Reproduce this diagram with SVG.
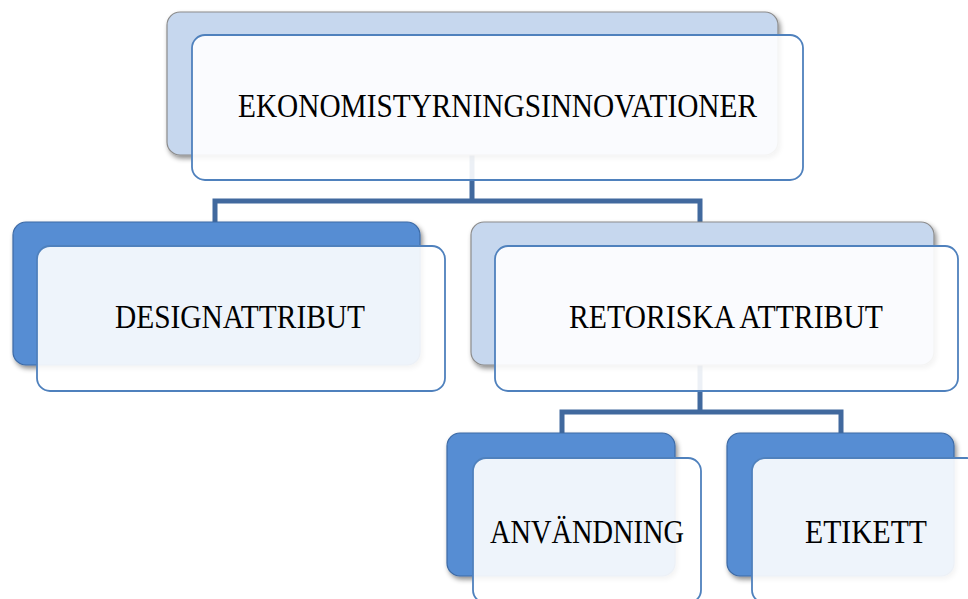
<svg xmlns="http://www.w3.org/2000/svg" width="968" height="599" viewBox="0 0 968 599">
<defs>
<filter id="sh" x="-10%" y="-10%" width="125%" height="130%">
<feDropShadow dx="2" dy="3" stdDeviation="2.5" flood-color="#000" flood-opacity="0.45"/>
</filter>
<style>
.bd{fill:#568dd3;stroke:#3d6aa5;stroke-width:1.2;filter:url(#sh)}
.bl{fill:#c6d7ee;stroke:#8c8c8c;stroke-width:1.2;filter:url(#sh)}
.fr{fill:#ffffff;fill-opacity:0.9;stroke:#4f81bd;stroke-width:1.8}
.t{font-family:"Liberation Serif","DejaVu Serif",serif;font-size:33px;fill:#000;text-anchor:middle}
.c{fill:none;stroke:#41699e;stroke-width:5;stroke-linejoin:miter}
</style>
</defs>
<rect width="968" height="599" fill="#ffffff"/>
<g id="connectors">
<path class="c" d="M472,155 V201 M215,222 V201 H700 V222"/>
<path class="c" d="M700,365 V412 M562,433 V412 H841 V433"/>
</g>
<g id="n-ekonomi">
<rect class="bl" x="167" y="12" width="611" height="143" rx="13"/>
<rect class="fr" x="192" y="35" width="611" height="145" rx="13"/>
<text class="t" x="497.5" y="117" textLength="519" lengthAdjust="spacingAndGlyphs">EKONOMISTYRNINGSINNOVATIONER</text>
</g>
<g id="n-design">
<rect class="bd" x="13" y="222" width="407" height="143" rx="13"/>
<rect class="fr" x="37" y="246" width="408" height="145" rx="13"/>
<text class="t" x="240" y="328" textLength="250" lengthAdjust="spacingAndGlyphs">DESIGNATTRIBUT</text>
</g>
<g id="n-retorik">
<rect class="bl" x="471" y="222" width="463" height="143" rx="13"/>
<rect class="fr" x="495" y="246" width="463" height="145" rx="13"/>
<text class="t" x="726" y="328" textLength="314" lengthAdjust="spacingAndGlyphs">RETORISKA ATTRIBUT</text>
</g>
<g id="n-anvandning">
<rect class="bd" x="447" y="433" width="228" height="143" rx="13"/>
<rect class="fr" x="473" y="458" width="228" height="145" rx="13"/>
<text class="t" x="587" y="543" textLength="194" lengthAdjust="spacingAndGlyphs">ANVÄNDNING</text>
</g>
<g id="n-etikett">
<rect class="bd" x="727" y="433" width="227" height="143" rx="13"/>
<rect class="fr" x="752" y="458" width="228" height="145" rx="13"/>
<text class="t" x="866" y="543" textLength="122" lengthAdjust="spacingAndGlyphs">ETIKETT</text>
</g>
</svg>
